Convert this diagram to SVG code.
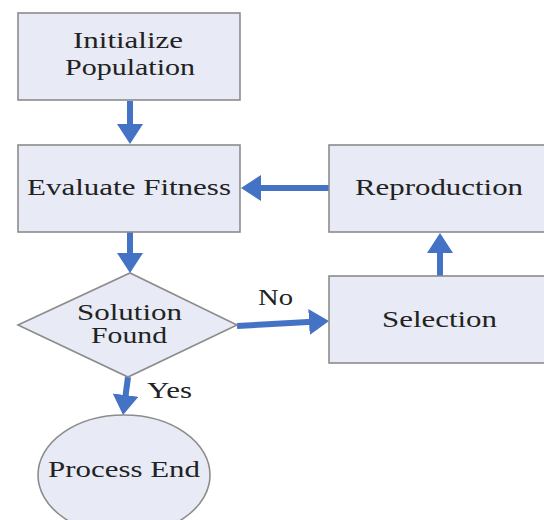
<svg xmlns="http://www.w3.org/2000/svg" width="544" height="520" viewBox="0 0 544 520">
<style>
.box{fill:#e8ebf6;stroke:#8c8c8c;stroke-width:1.6}
.lbl{font-family:"Liberation Serif","Times New Roman",serif;font-size:23px;fill:#222222}
.con{stroke:#4472c4;stroke-width:6;fill:none}
</style>
<defs>
<marker id="ah" markerUnits="userSpaceOnUse" markerWidth="22" markerHeight="28" refX="8" refY="13" orient="auto" viewBox="0 0 22 28">
<path d="M0,0 L20,13 L0,26 z" fill="#4472c4"/>
</marker>
</defs>
<rect width="544" height="520" fill="#ffffff"/>
<g id="connectors">
<line class="con" x1="130" y1="101" x2="130" y2="132" marker-end="url(#ah)"/>
<line class="con" x1="130" y1="232" x2="130" y2="261" marker-end="url(#ah)"/>
<line class="con" x1="329" y1="188" x2="253" y2="188" marker-end="url(#ah)"/>
<line class="con" x1="440" y1="276" x2="440" y2="245" marker-end="url(#ah)"/>
<line class="con" x1="237" y1="326" x2="317" y2="321.6" marker-end="url(#ah)"/>
<line class="con" x1="128" y1="377" x2="124.6" y2="403" marker-end="url(#ah)"/>
<text class="lbl" x="258" y="305" textLength="35" lengthAdjust="spacingAndGlyphs">No</text>
<text class="lbl" x="147" y="398" textLength="45" lengthAdjust="spacingAndGlyphs">Yes</text>
</g>
<g id="init">
<rect class="box" x="18" y="13" width="222" height="87"/>
<text class="lbl" x="73" y="48" textLength="110" lengthAdjust="spacingAndGlyphs">Initialize</text>
<text class="lbl" x="65" y="75" textLength="130" lengthAdjust="spacingAndGlyphs">Population</text>
</g>
<g id="evaluate">
<rect class="box" x="18" y="145" width="222" height="87"/>
<text class="lbl" x="27" y="195" textLength="204" lengthAdjust="spacingAndGlyphs">Evaluate Fitness</text>
</g>
<g id="reproduction">
<rect class="box" x="329" y="145" width="230" height="87"/>
<text class="lbl" x="355" y="195" textLength="168" lengthAdjust="spacingAndGlyphs">Reproduction</text>
</g>
<g id="decision">
<polygon class="box" points="18,325 130,273 237,325 128,377"/>
<text class="lbl" x="77" y="320" textLength="105" lengthAdjust="spacingAndGlyphs">Solution</text>
<text class="lbl" x="91" y="343" textLength="76" lengthAdjust="spacingAndGlyphs">Found</text>
</g>
<g id="selection">
<rect class="box" x="329" y="276" width="230" height="87"/>
<text class="lbl" x="382" y="327" textLength="115" lengthAdjust="spacingAndGlyphs">Selection</text>
</g>
<g id="end">
<ellipse class="box" cx="124" cy="475" rx="86" ry="60"/>
<text class="lbl" x="48" y="477" textLength="152" lengthAdjust="spacingAndGlyphs">Process End</text>
</g>
</svg>
